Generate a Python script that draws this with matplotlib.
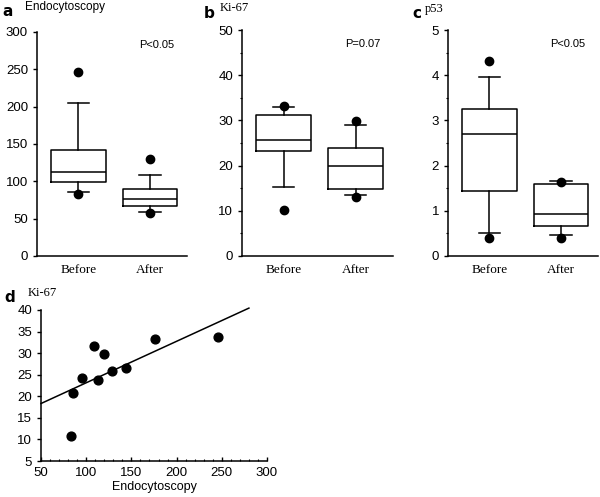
import numpy as np
import matplotlib
matplotlib.use("Agg")
import matplotlib.pyplot as plt
from matplotlib.ticker import MultipleLocator

# ---------------- data ----------------
groups = ["Before", "After"]

# panel a: Endocytoscopy
endo_med = [113, 77]
endo_q1 = [99, 67]
endo_q3 = [142, 90]
endo_whislo = [86, 59]
endo_whishi = [205, 109]
endo_fliers = [[247, 83], [130, 57]]

# panel b: Ki-67
ki_med = [25.7, 19.9]
ki_q1 = [23.3, 14.8]
ki_q3 = [31.2, 23.9]
ki_whislo = [15.3, 13.4]
ki_whishi = [32.9, 29.0]
ki_fliers = [[33.1, 10.2], [29.8, 13.1]]

# panel c: p53
p53_med = [2.70, 0.92]
p53_q1 = [1.43, 0.66]
p53_q3 = [3.26, 1.59]
p53_whislo = [0.51, 0.46]
p53_whishi = [3.95, 1.65]
p53_fliers = [[4.32, 0.40], [1.64, 0.40]]

p_texts = ["P<0.05", "P=0.07", "P<0.05"]

# panel d: scatter Endocytoscopy vs Ki-67
scatter_endo = [83.2, 85.8, 95.0, 109.1, 112.8, 119.4, 129.0, 143.8, 176.3, 246.1]
scatter_ki = [10.8, 20.8, 24.2, 31.7, 23.8, 29.7, 25.8, 26.5, 33.2, 33.7]

SANS = ["Liberation Sans", "DejaVu Sans"]
SERIF = ["Liberation Serif", "DejaVu Serif"]

fig = plt.figure(figsize=(6.0, 4.97), dpi=100)

W, H = 600.0, 497.0
def ax_at(l, t, r, b):
    return fig.add_axes([l / W, 1 - b / H, (r - l) / W, (b - t) / H])


def style_ticklabels(labels):
    for lab in labels:
        lab.set_family(SANS)
        lab.set_fontsize(9.5)


def box_panel(ax, med, q1, q3, lo, hi, fl, ylim, major, minor, ptext):
    stats = []
    for i in range(2):
        stats.append(dict(med=med[i], q1=q1[i], q3=q3[i], whislo=lo[i],
                          whishi=hi[i], fliers=fl[i], label=groups[i]))
    ax.bxp(stats, positions=[1, 2], widths=0.76, capwidths=0.3,
           showfliers=True,
           boxprops=dict(color="black", linewidth=1.1),
           medianprops=dict(color="black", linewidth=1.1),
           whiskerprops=dict(color="black", linewidth=1.1),
           capprops=dict(color="black", linewidth=1.1),
           flierprops=dict(marker="o", markerfacecolor="black",
                           markeredgecolor="black", markersize=6))
    ax.set_xlim(0.42, 2.52)
    ax.set_ylim(*ylim)
    for s in ["top", "right"]:
        ax.spines[s].set_visible(False)
    for s in ["left", "bottom"]:
        ax.spines[s].set_linewidth(1.1)
    ax.yaxis.set_major_locator(MultipleLocator(major))
    if minor:
        ax.yaxis.set_minor_locator(MultipleLocator(minor))
    ax.tick_params(axis="y", which="major", direction="out", length=3, width=1)
    ax.tick_params(axis="y", which="minor", direction="out", length=1.5, width=0.8)
    ax.tick_params(axis="x", length=0, pad=6)
    ax.set_xticks([1, 2])
    ax.set_xticklabels(groups, family=SERIF, fontsize=9.5)
    style_ticklabels(ax.get_yticklabels())
    ax.text(0.8, 0.94, ptext, transform=ax.transAxes, ha="center",
            va="center", family=SANS, fontsize=8)


ax_a = ax_at(37, 32, 187, 256)
box_panel(ax_a, endo_med, endo_q1, endo_q3, endo_whislo, endo_whishi,
          endo_fliers, (0, 300), 50, None, p_texts[0])
ax_b = ax_at(242, 30, 393, 256)
box_panel(ax_b, ki_med, ki_q1, ki_q3, ki_whislo, ki_whishi,
          ki_fliers, (0, 50), 10, 5, p_texts[1])
ax_c = ax_at(448, 30, 598, 256)
box_panel(ax_c, p53_med, p53_q1, p53_q3, p53_whislo, p53_whishi,
          p53_fliers, (0, 5), 1, 0.5, p_texts[2])

# panel d
ax_d = ax_at(41, 310, 267, 461)
ax_d.scatter(scatter_endo, scatter_ki, s=40, color="black", zorder=3)
coef = np.polyfit(scatter_endo, scatter_ki, 1)
xl = np.array([50, 280])
ax_d.plot(xl, np.polyval(coef, xl), color="black", linewidth=1.1, clip_on=False)
ax_d.set_xlim(50, 300)
ax_d.set_ylim(5, 40)
for s in ["top", "right"]:
    ax_d.spines[s].set_visible(False)
for s in ["left", "bottom"]:
    ax_d.spines[s].set_linewidth(1.1)
ax_d.xaxis.set_major_locator(MultipleLocator(50))
ax_d.xaxis.set_minor_locator(MultipleLocator(10))
ax_d.yaxis.set_major_locator(MultipleLocator(5))
ax_d.tick_params(axis="x", which="major", direction="in", length=3, width=1, pad=4)
ax_d.tick_params(axis="x", which="minor", direction="in", length=1.5, width=0.8)
ax_d.tick_params(axis="y", which="major", direction="out", length=3, width=1)
style_ticklabels(ax_d.get_xticklabels() + ax_d.get_yticklabels())
ax_d.set_xlabel("Endocytoscopy", family=SANS, fontsize=9, labelpad=2)

# panel letters and titles
def ftext(x, y, s, **kw):
    fig.text(x / W, 1 - y / H, s, **kw)

ftext(2, 12, "a", family=["DejaVu Sans"], fontsize=11, weight="bold", va="center")
ftext(25, 7, "Endocytoscopy", family=SANS, fontsize=8.5, va="center")
ftext(204, 13, "b", family=["DejaVu Sans"], fontsize=11, weight="bold", va="center")
ftext(220, 8, "Ki-67", family=SERIF, fontsize=9, va="center")
ftext(412, 14, "c", family=["DejaVu Sans"], fontsize=11, weight="bold", va="center")
ftext(425, 9, "p53", family=SERIF, fontsize=9, va="center")
ftext(4, 297, "d", family=["DejaVu Sans"], fontsize=11, weight="bold", va="center")
ftext(28, 293, "Ki-67", family=SERIF, fontsize=9, va="center")

fig.savefig("out.png", dpi=100)
